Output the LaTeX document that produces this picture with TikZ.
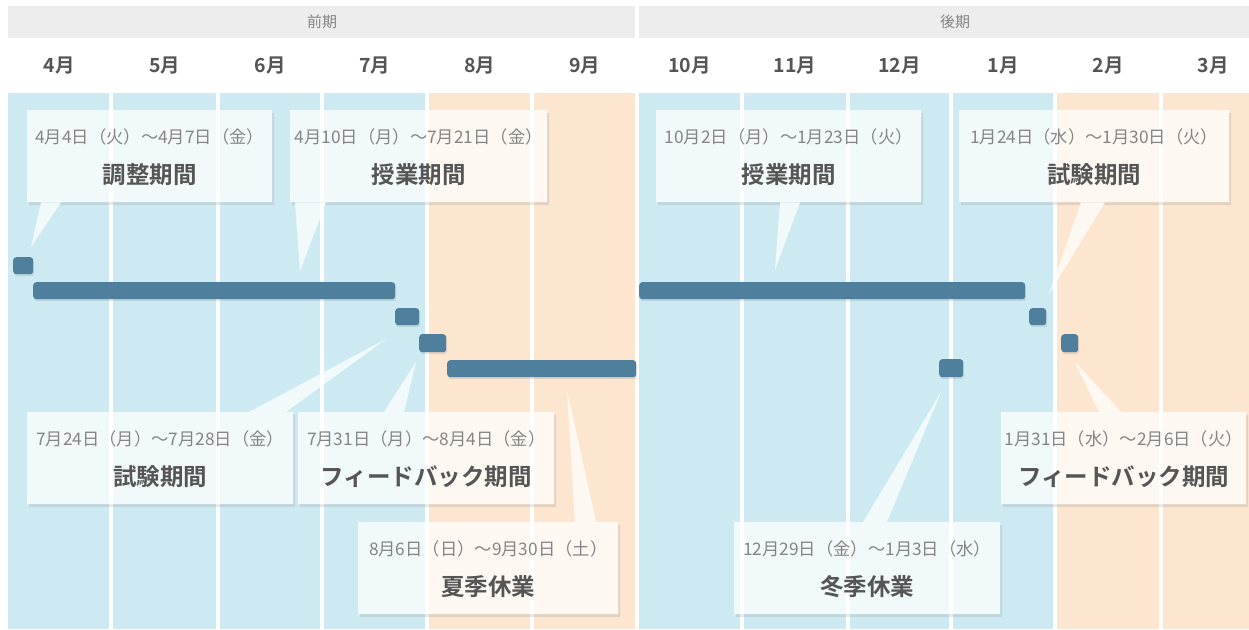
\documentclass[tikz,border=0pt]{standalone}
\usepackage{fontspec}
\setmainfont{Noto Sans CJK JP}[BoldFont={Noto Sans CJK JP Bold}]
\usetikzlibrary{calc,shadows}
\definecolor{bgblue}{HTML}{CDEAF2}
\definecolor{bgpeach}{HTML}{FCE6D0}
\definecolor{hdrgray}{HTML}{EDEDED}
\definecolor{barblue}{HTML}{4E809D}
\definecolor{txtgray}{HTML}{555555}
\definecolor{dategray}{HTML}{858585}
\tikzset{
  hdrbox/.style={fill=hdrgray, draw=none},
  hdrtext/.style={text=dategray, font=\fontsize{15}{16}\selectfont, inner sep=0pt},
  monthtext/.style={text=txtgray, font=\bfseries\fontsize{19.5}{21}\selectfont, inner sep=0pt},
  barbox/.style={fill=barblue, draw=none, rounded corners=3pt, inner sep=0pt, anchor=north west,
    drop shadow={opacity=0.2, shadow xshift=1pt, shadow yshift=-2pt}},
  cbox/.style={fill=white, draw=none, inner sep=0pt, minimum height=92pt, anchor=north west,
    drop shadow={opacity=0.25, shadow xshift=2pt, shadow yshift=-3pt}},
  ctail/.style={fill=white, draw=none},
  cgroup/.style={transparency group, opacity=0.75},
  datetext/.style={text=dategray, font=\fontsize{17.3}{20}\selectfont, inner sep=0pt},
  titletext/.style={text=txtgray, font=\bfseries\fontsize{23.5}{25}\selectfont, inner sep=0pt},
}
\begin{document}
\begin{tikzpicture}[x=1pt, y=-1pt]
\useasboundingbox (0,0) rectangle (1249,629);
\fill[white] (0,0) rectangle (1249,629);

% header
\fill[hdrbox] (8,6) rectangle (635,38);
\fill[hdrbox] (639,6) rectangle (1249,38);
\node[hdrtext] (hz) at (322,22) {前期};
\node[hdrtext] (hk) at (955,22) {後期};

% months
\foreach \m/\x [count=\i] in {4月/59.5,5月/164.5,6月/270,7月/374.5,8月/479.5,9月/584.5,10月/689.5,11月/795,12月/899.5,1月/1003,2月/1108,3月/1213}
  \node[monthtext] (m\i) at (\x,66) {\m};

% background columns
\fill[bgblue] (8,93) rectangle (427,629);
\fill[bgpeach] (427,93) rectangle (637,629);
\fill[bgblue] (637,93) rectangle (1055,629);
\fill[bgpeach] (1055,93) rectangle (1249,629);
\foreach \x in {111,218,322,427,532,637,742,848,951,1055,1161}
  \fill[white] (\x-1.6,93) rectangle (\x+1.6,629);

% bars
\node[barbox, minimum width=20pt, minimum height=17pt] (b1) at (13,257) {};
\node[barbox, minimum width=362pt, minimum height=17pt] (b2) at (33,282) {};
\node[barbox, minimum width=24pt, minimum height=17pt] (b3) at (395,308) {};
\node[barbox, minimum width=27pt, minimum height=18pt] (b4) at (419,334) {};
\node[barbox, minimum width=189pt, minimum height=17pt] (b5) at (447,360) {};
\node[barbox, minimum width=386pt, minimum height=17pt] (b6) at (639,282) {};
\node[barbox, minimum width=24pt, minimum height=18pt] (b7) at (939,359) {};
\node[barbox, minimum width=17pt, minimum height=17pt] (b8) at (1029,308) {};
\node[barbox, minimum width=17pt, minimum height=18pt] (b9) at (1061,334) {};

% tail tips
\coordinate (p1) at (31,247);
\coordinate (p2) at (300,271);
\coordinate (p3) at (775,270);
\coordinate (p4) at (1049,294);
\coordinate (p5) at (386,339);
\coordinate (p6) at (416,362);
\coordinate (p7) at (567,390);
\coordinate (p8) at (941,392);
\coordinate (p9) at (1075,362);

% callout 1
\begin{scope}[cgroup]
\node[cbox, minimum width=245pt] (c1) at (27,110) {};
\fill[ctail] ($(c1.south west)+(14,0)$) -- ($(c1.south west)+(34,0)$) -- (p1) -- cycle;
\end{scope}
\node[datetext] (d1) at ($(c1.north)+(0,27)$) {4月4日（火）～4月7日（金）};
\node[titletext] (t1) at ($(c1.north)+(0,65)$) {調整期間};

% callout 2
\begin{scope}[cgroup]
\node[cbox, minimum width=257pt] (c2) at (290,110) {};
\fill[ctail] ($(c2.south west)+(5,0)$) -- ($(c2.south west)+(36,0)$) -- (p2) -- cycle;
\end{scope}
\node[datetext] (d2) at ($(c2.north)+(0,27)$) {4月10日（月）～7月21日（金）};
\node[titletext] (t2) at ($(c2.north)+(0,65)$) {授業期間};

% callout 3
\begin{scope}[cgroup]
\node[cbox, minimum width=265pt] (c3) at (656,110) {};
\fill[ctail] ($(c3.south west)+(124,0)$) -- ($(c3.south west)+(144,0)$) -- (p3) -- cycle;
\end{scope}
\node[datetext] (d3) at ($(c3.north)+(0,27)$) {10月2日（月）～1月23日（火）};
\node[titletext] (t3) at ($(c3.north)+(0,65)$) {授業期間};

% callout 4
\begin{scope}[cgroup]
\node[cbox, minimum width=270pt] (c4) at (959,110) {};
\fill[ctail] ($(c4.south west)+(122,0)$) -- ($(c4.south west)+(146,0)$) -- (p4) -- cycle;
\end{scope}
\node[datetext] (d4) at ($(c4.north)+(0,27)$) {1月24日（水）～1月30日（火）};
\node[titletext] (t4) at ($(c4.north)+(0,65)$) {試験期間};

% callout 5
\begin{scope}[cgroup]
\node[cbox, minimum width=266pt] (c5) at (27,412) {};
\fill[ctail] ($(c5.north west)+(222,0)$) -- ($(c5.north west)+(259,0)$) -- (p5) -- cycle;
\end{scope}
\node[datetext] (d5) at ($(c5.north)+(0,27)$) {7月24日（月）～7月28日（金）};
\node[titletext] (t5) at ($(c5.north)+(0,65)$) {試験期間};

% callout 6
\begin{scope}[cgroup]
\node[cbox, minimum width=256pt] (c6) at (298,412) {};
\fill[ctail] ($(c6.north west)+(86,0)$) -- ($(c6.north west)+(106,0)$) -- (p6) -- cycle;
\end{scope}
\node[datetext] (d6) at ($(c6.north)+(0,27)$) {7月31日（月）～8月4日（金）};
\node[titletext] (t6) at ($(c6.north)+(0,65)$) {フィードバック期間};

% callout 7
\begin{scope}[cgroup]
\node[cbox, minimum width=260pt] (c7) at (358,522) {};
\fill[ctail] ($(c7.north west)+(217,0)$) -- ($(c7.north west)+(238,0)$) -- (p7) -- cycle;
\end{scope}
\node[datetext] (d7) at ($(c7.north)+(0,27)$) {8月6日（日）～9月30日（土）};
\node[titletext] (t7) at ($(c7.north)+(0,65)$) {夏季休業};

% callout 8
\begin{scope}[cgroup]
\node[cbox, minimum width=266pt] (c8) at (734,522) {};
\fill[ctail] ($(c8.north west)+(129,0)$) -- ($(c8.north west)+(153,0)$) -- (p8) -- cycle;
\end{scope}
\node[datetext] (d8) at ($(c8.north)+(0,27)$) {12月29日（金）～1月3日（水）};
\node[titletext] (t8) at ($(c8.north)+(0,65)$) {冬季休業};

% callout 9
\begin{scope}[cgroup]
\node[cbox, minimum width=245pt] (c9) at (1001,412) {};
\fill[ctail] ($(c9.north west)+(98,0)$) -- ($(c9.north west)+(120,0)$) -- (p9) -- cycle;
\end{scope}
\node[datetext] (d9) at ($(c9.north)+(0,27)$) {1月31日（水）～2月6日（火）};
\node[titletext] (t9) at ($(c9.north)+(0,65)$) {フィードバック期間};
\end{tikzpicture}
\end{document}
